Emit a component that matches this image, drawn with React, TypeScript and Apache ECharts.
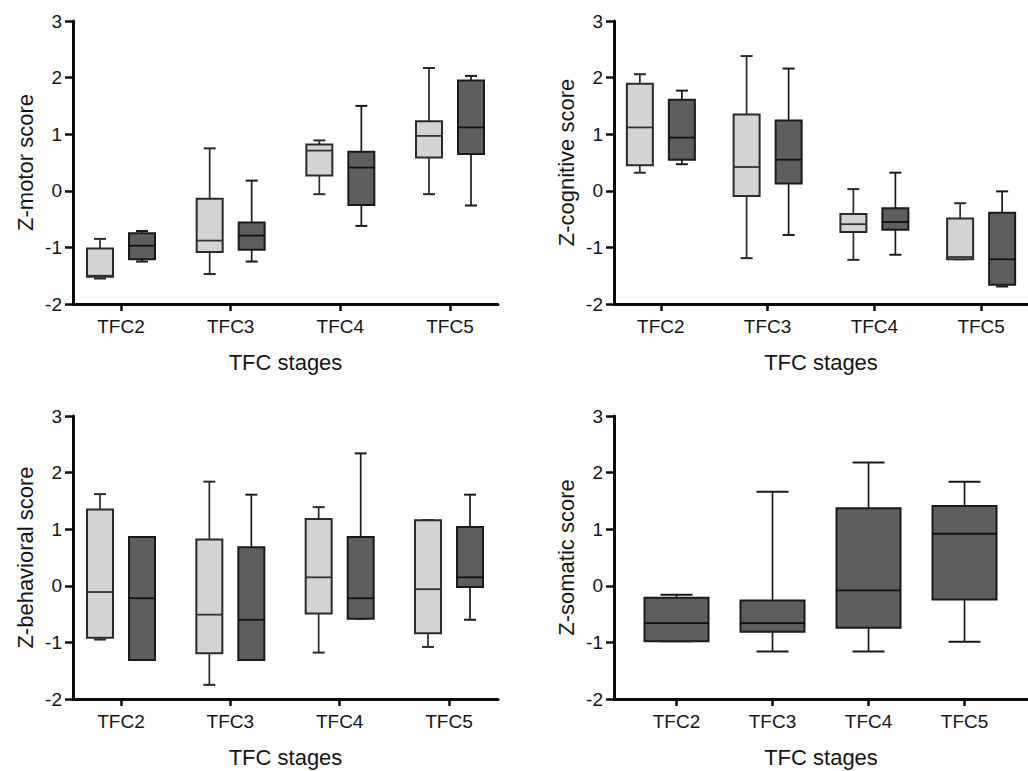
import React, { useEffect, useRef } from "react";
import * as echarts from "echarts";

// Categories and tick labels
const categories = ["TFC2", "TFC3", "TFC4", "TFC5"];
const yTicks = [-2, -1, 0, 1, 2, 3];

// Box values: [min, q1, median, q3, max]
const motorLight = [
  [-1.55, -1.52, -1.5, -1.02, -0.85],
  [-1.47, -1.08, -0.88, -0.14, 0.75],
  [-0.06, 0.27, 0.71, 0.82, 0.89],
  [-0.06, 0.59, 0.97, 1.23, 2.17],
];
const motorDark = [
  [-1.25, -1.21, -0.97, -0.75, -0.71],
  [-1.25, -1.04, -0.79, -0.56, 0.18],
  [-0.62, -0.25, 0.41, 0.69, 1.5],
  [-0.26, 0.65, 1.12, 1.95, 2.03],
];
const cogLight = [
  [0.32, 0.45, 1.12, 1.89, 2.06],
  [-1.19, -0.09, 0.42, 1.35, 2.38],
  [-1.22, -0.73, -0.59, -0.41, 0.03],
  [-1.21, -1.21, -1.17, -0.49, -0.22],
];
const cogDark = [
  [0.47, 0.55, 0.94, 1.61, 1.77],
  [-0.78, 0.13, 0.55, 1.24, 2.16],
  [-1.13, -0.69, -0.55, -0.31, 0.32],
  [-1.69, -1.66, -1.21, -0.39, -0.01],
];
const behLight = [
  [-0.95, -0.92, -0.11, 1.35, 1.62],
  [-1.75, -1.19, -0.51, 0.82, 1.84],
  [-1.18, -0.49, 0.15, 1.18, 1.39],
  [-1.08, -0.84, -0.06, 1.16, 1.16],
];
const behDark = [
  [-1.31, -1.31, -0.22, 0.86, 0.86],
  [-1.31, -1.31, -0.6, 0.68, 1.61],
  [-0.58, -0.58, -0.22, 0.86, 2.34],
  [-0.6, -0.02, 0.15, 1.04, 1.61],
];
const somDark = [
  [-0.98, -0.98, -0.66, -0.21, -0.16],
  [-1.16, -0.81, -0.66, -0.26, 1.66],
  [-1.16, -0.74, -0.08, 1.37, 2.18],
  [-0.99, -0.24, 0.92, 1.41, 1.84],
];

const yTitles = ["Z-motor score", "Z-cognitive score", "Z-behavioral score", "Z-somatic score"];
const xTitle = "TFC stages";

const FONT = "'Liberation Sans', Arial, Helvetica, sans-serif";
const TEXT = "#151515";
const AXIS = "#0a0a0a";
const LIGHT = "#d4d4d4";
const DARK = "#5e5e5e";

function makeRender(offset: number, width: number, cap: number, fill: string, stroke: string, medStroke: string) {
  return (params: any, api: any) => {
    const x = api.value(0);
    const v = [1, 2, 3, 4, 5].map((i) => api.value(i));
    const cx = api.coord([x, 0])[0] + offset;
    const [yMin, yQ1, yMed, yQ3, yMax] = v.map((val) => api.coord([x, val])[1]);
    const lineStyle = { stroke: stroke, lineWidth: 1.7 };
    return {
      type: "group",
      children: [
        { type: "line", shape: { x1: cx, y1: yQ3, x2: cx, y2: yMax }, style: lineStyle },
        { type: "line", shape: { x1: cx, y1: yQ1, x2: cx, y2: yMin }, style: lineStyle },
        { type: "line", shape: { x1: cx - cap / 2, y1: yMax, x2: cx + cap / 2, y2: yMax }, style: { stroke: stroke, lineWidth: 2 } },
        { type: "line", shape: { x1: cx - cap / 2, y1: yMin, x2: cx + cap / 2, y2: yMin }, style: { stroke: stroke, lineWidth: 2 } },
        {
          type: "rect",
          shape: { x: cx - width / 2, y: yQ3, width: width, height: yQ1 - yQ3 },
          style: { fill: fill, stroke: stroke, lineWidth: 2 },
        },
        { type: "line", shape: { x1: cx - width / 2, y1: yMed, x2: cx + width / 2, y2: yMed }, style: { stroke: medStroke, lineWidth: 1.8 } },
      ],
    };
  };
}

const toData = (arr: number[][]) => arr.map((b, i) => [i + 1, ...b]);

export default function App() {
  const ref = useRef<HTMLDivElement>(null);
  useEffect(() => {
    if (!ref.current) return;
    const chart = echarts.init(ref.current, null, { renderer: "svg" });
    const grids = [
      { left: 73, top: 21, width: 425, height: 283 },
      { left: 614, top: 21, width: 424, height: 283 },
      { left: 73, top: 416, width: 425, height: 283 },
      { left: 614, top: 416, width: 424, height: 283 },
    ];
    const xRanges = [
      [0.5623, 4.4377],
      [0.561, 4.439],
      [0.561, 4.448],
      [0.349, 4.661],
    ];
    const tickVals = categories.map((_, i) => i + 1);
    const xAxes = grids.map((_, g) => ({
      type: "value",
      gridIndex: g,
      min: xRanges[g][0],
      max: xRanges[g][1],
      splitLine: { show: false },
      axisLine: { show: true, onZero: false, lineStyle: { color: AXIS, width: 3 } },
      axisTick: { show: true, customValues: tickVals, length: 7, lineStyle: { color: AXIS, width: 2.5 } },
      axisLabel: {
        customValues: tickVals,
        formatter: (v: number) => categories[Math.round(v) - 1] ?? "",
        fontSize: 19,
        color: TEXT,
        fontFamily: FONT,
        margin: 13,
      },
      name: xTitle,
      nameLocation: "middle",
      nameGap: 47,
      nameTextStyle: { fontSize: 22, color: TEXT, fontFamily: FONT },
    }));
    const yAxes = grids.map((_, g) => ({
      type: "value",
      gridIndex: g,
      min: yTicks[0],
      max: yTicks[yTicks.length - 1],
      interval: 1,
      splitLine: { show: false },
      axisLine: { show: true, onZero: false, lineStyle: { color: AXIS, width: 3 } },
      axisTick: { show: true, length: 8, lineStyle: { color: AXIS, width: 2.5 } },
      axisLabel: { fontSize: 19, color: TEXT, fontFamily: FONT, margin: 11 },
      name: yTitles[g],
      nameLocation: "middle",
      nameGap: 37,
      nameTextStyle: { fontSize: 22, color: TEXT, fontFamily: FONT },
    }));
    const mk = (g: number, data: number[][], offset: number, width: number, cap: number, fill: string, stroke: string, med: string) => ({
      type: "custom",
      xAxisIndex: g,
      yAxisIndex: g,
      data: toData(data),
      encode: { x: 0, y: [1, 2, 3, 4, 5] },
      renderItem: makeRender(offset, width, cap, fill, stroke, med),
    });
    chart.setOption({
      animation: false,
      backgroundColor: "#ffffff",
      grid: grids,
      xAxis: xAxes,
      yAxis: yAxes,
      series: [
        mk(0, motorLight, -21, 26, 12, LIGHT, "#2a2a2a", "#333"),
        mk(0, motorDark, 21, 26, 12, DARK, "#1a1a1a", "#111"),
        mk(1, cogLight, -21, 26, 12, LIGHT, "#2a2a2a", "#333"),
        mk(1, cogDark, 21, 26, 12, DARK, "#1a1a1a", "#111"),
        mk(2, behLight, -21, 26, 12, LIGHT, "#2a2a2a", "#333"),
        mk(2, behDark, 21, 26, 12, DARK, "#1a1a1a", "#111"),
        mk(3, somDark, 0, 64, 32, DARK, "#1a1a1a", "#111"),
      ],
    });
    return () => chart.dispose();
  }, []);
  return (
    <div
      ref={ref}
      style={{ position: "absolute", left: 0, top: 0, width: 1028, height: 771, background: "#fff" }}
    />
  );
}
